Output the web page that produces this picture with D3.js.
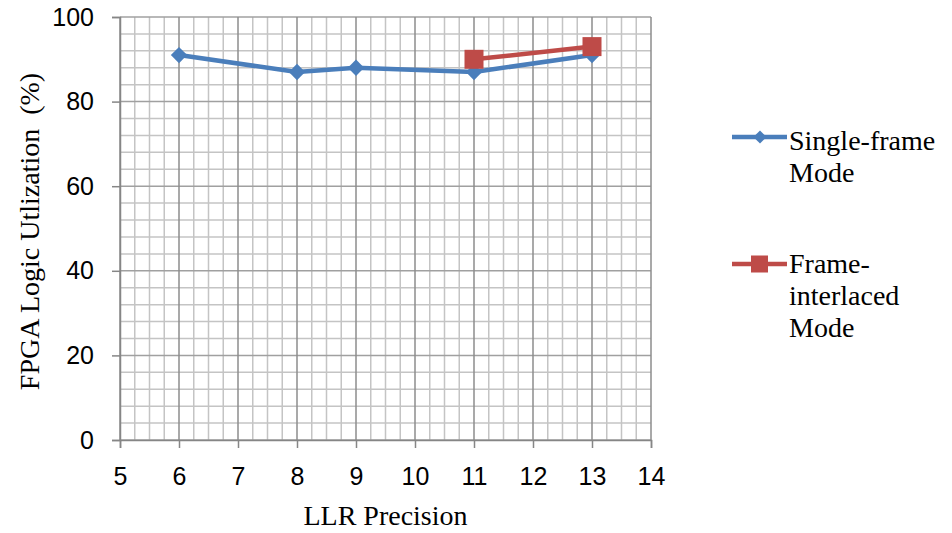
<!DOCTYPE html>
<html><head><meta charset="utf-8">
<script src="https://cdn.jsdelivr.net/npm/d3@7"></script>
<style>body{margin:0;background:#fff}svg{display:block}</style>
</head><body>
<svg id="c" width="952" height="533"></svg>
<script>
const xTicks = [5,6,7,8,9,10,11,12,13,14];
const yTicks = [0,20,40,60,80,100];
const singleX = [6,8,9,11,13];
const singleY = [91,87,88,87,91];
const interX = [11,13];
const interY = [90,93];
const seriesNames = [["Single-frame","Mode"],["Frame-","interlaced","Mode"]];
const colors = ["#4A7EBB","#BE4B48"];

const svg = d3.select("#c");
const x = d3.scaleLinear().domain([5,14]).range([120,651]);
const y = d3.scaleLinear().domain([0,100]).range([440,17]);
const serif = "'Liberation Serif', 'Times New Roman', serif";
const sans = "'Liberation Sans', Arial, sans-serif";

// minor grid
const g = svg.append("g");
d3.range(5,14.001,0.25).forEach(v=>{
  if (Math.abs(v-Math.round(v))<1e-6) return;
  g.append("line").attr("x1",x(v)).attr("x2",x(v)).attr("y1",y(0)).attr("y2",y(100))
   .attr("stroke","#c4c4c4").attr("stroke-width",1.5);
});
d3.range(0,100.001,4).forEach(v=>{
  g.append("line").attr("x1",x(5)).attr("x2",x(14)).attr("y1",y(v)).attr("y2",y(v))
   .attr("stroke", v%20===0 ? "#a0a0a0" : "#c4c4c4").attr("stroke-width",1.5);
});
xTicks.forEach(v=>{
  g.append("line").attr("x1",x(v)).attr("x2",x(v)).attr("y1",y(0)).attr("y2",y(100))
   .attr("stroke","#8c8c8c").attr("stroke-width",1.5);
});

// axes
const xa = svg.append("g").attr("transform",`translate(0,${y(0)})`)
  .call(d3.axisBottom(x).tickValues(xTicks).tickSize(8).tickPadding(19).tickFormat(d3.format("d")));
const ya = svg.append("g").attr("transform",`translate(${x(5)},0)`)
  .call(d3.axisLeft(y).tickValues(yTicks).tickSize(8).tickPadding(18));
[xa,ya].forEach(a=>{
  a.attr("font-family",null).attr("font-size",null);
  a.select(".domain").attr("stroke","#868686").attr("stroke-width",1.5);
  a.selectAll(".tick line").attr("stroke","#868686").attr("stroke-width",1.5);
  a.selectAll("text").style("font-family",sans).style("font-size","25px").attr("fill","#000");
});

// lines
const line = d3.line().x(d=>x(d[0])).y(d=>y(d[1]));
const s1 = singleX.map((v,i)=>[v,singleY[i]]);
const s2 = interX.map((v,i)=>[v,interY[i]]);
svg.append("path").datum(s1).attr("d",line).attr("fill","none").attr("stroke",colors[0]).attr("stroke-width",4.5).attr("stroke-linejoin","round");
svg.selectAll(".d1").data(s1).enter().append("path")
  .attr("transform",d=>`translate(${x(d[0])},${y(d[1])})`)
  .attr("d",d3.symbol(d3.symbolDiamond2,170)).attr("fill",colors[0]);
svg.append("path").datum(s2).attr("d",line).attr("fill","none").attr("stroke",colors[1]).attr("stroke-width",4.5);
svg.selectAll(".d2").data(s2).enter().append("rect")
  .attr("x",d=>x(d[0])-9.5).attr("y",d=>y(d[1])-9.5).attr("width",19).attr("height",19).attr("fill",colors[1]);

// axis titles
svg.append("text").attr("x",(x(5)+x(14))/2).attr("y",525).attr("text-anchor","middle")
  .style("font-family",serif).style("font-size","28px").text("LLR Precision");
svg.append("text").attr("transform",`translate(39,${(y(0)+y(100))/2 + 3}) rotate(-90)`)
  .attr("text-anchor","middle").style("font-family",serif).style("font-size","28px")
  .style("white-space","pre").text("FPGA Logic Utlization  (%)");

// legend
const legY = [137, 264];
const baseY = [[150,182],[273,305,337]];
legY.forEach((ly,i)=>{
  svg.append("line").attr("x1",732).attr("x2",787).attr("y1",ly).attr("y2",ly)
    .attr("stroke",colors[i]).attr("stroke-width",4.5);
  if (i===0) svg.append("path").attr("transform",`translate(760,${ly})`)
    .attr("d",d3.symbol(d3.symbolDiamond2,110)).attr("fill",colors[0]);
  else svg.append("rect").attr("x",751).attr("y",ly-8.5).attr("width",17).attr("height",17).attr("fill",colors[1]);
  seriesNames[i].forEach((t,j)=>{
    svg.append("text").attr("x",789).attr("y",baseY[i][j])
      .style("font-family",serif).style("font-size","28px").text(t);
  });
});
</script>
</body></html>
